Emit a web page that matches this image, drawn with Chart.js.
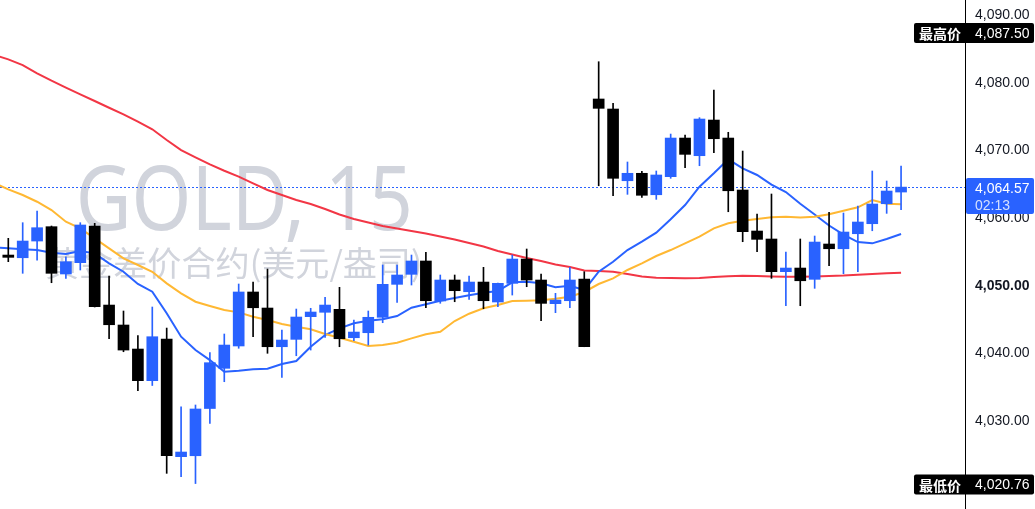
<!DOCTYPE html>
<html>
<head>
<meta charset="utf-8">
<script src="https://cdn.jsdelivr.net/npm/chart.js@4.4.1/dist/chart.umd.min.js"></script>
<style>
html,body{margin:0;padding:0;background:#ffffff;overflow:hidden;}
#wrap{width:1035px;height:509px;position:relative;}
canvas{display:block;}
</style>
</head>
<body>
<div id="wrap"><canvas id="c" width="1035" height="509"></canvas></div>
<script>
// ---- data (GOLD, 15 min) ----
const opens = [4054.53,4054.13,4056.60,4058.72,4051.73,4053.40,4058.82,4047.14,4044.19,4040.64,
4035.96,4042.12,4024.73,4024.87,4031.85,4037.79,4041.09,4049.07,4046.70,4040.98,
4042.07,4045.42,4046.07,4046.51,4042.31,4043.05,4045.33,4050.20,4051.68,4053.65,
4047.74,4050.84,4049.11,4050.54,4047.59,4050.35,4053.94,4050.84,4047.34,4047.78,
4050.99,4077.59,4076.11,4065.51,4066.61,4063.44,4066.11,4071.82,4069.21,4074.48,
4071.82,4064.14,4058.08,4056.90,4052.07,4052.61,4050.94,4056.16,4055.46,4057.68,
4059.16,4062.11,4063.84];
const highs = [4057.00,4059.31,4061.04,4058.82,4054.28,4059.31,4059.22,4051.43,4046.26,4042.61,
4046.85,4043.74,4032.11,4032.37,4040.10,4042.86,4050.25,4050.54,4052.46,4043.45,
4046.55,4046.66,4048.28,4049.76,4044.93,4046.26,4053.06,4053.06,4054.53,4054.93,
4051.58,4051.58,4051.43,4052.71,4050.39,4054.53,4055.42,4051.73,4048.87,4052.71,
4052.07,4083.10,4076.95,4068.28,4066.90,4066.95,4072.41,4072.27,4074.83,4078.92,
4072.67,4069.90,4060.59,4063.55,4054.98,4056.90,4057.34,4060.84,4060.74,4061.77,
4066.95,4065.47,4067.69];
const lows = [4053.55,4051.83,4053.79,4050.44,4051.09,4052.32,4046.85,4042.16,4040.24,4034.48,
4035.25,4022.27,4021.77,4020.76,4029.66,4035.81,4040.75,4042.46,4040.01,4036.46,
4039.65,4040.49,4042.37,4040.98,4041.87,4041.23,4044.53,4047.54,4050.10,4046.75,
4047.40,4047.63,4047.99,4046.60,4046.89,4048.62,4049.85,4044.82,4046.01,4046.75,
4040.98,4064.77,4063.30,4063.50,4063.06,4062.76,4065.87,4067.43,4067.73,4069.65,
4060.93,4056.50,4055.02,4051.09,4047.04,4047.04,4049.61,4052.95,4051.77,4052.07,
4058.12,4060.69,4061.23];
const closes = [4054.19,4056.60,4058.57,4051.83,4053.54,4058.97,4046.89,4044.23,4040.49,4035.96,
4042.46,4024.87,4025.42,4031.78,4038.62,4041.23,4049.07,4046.74,4040.98,4041.97,
4045.37,4046.11,4047.14,4042.16,4043.15,4045.33,4050.20,4051.58,4053.65,4047.78,
4050.84,4049.26,4050.54,4047.78,4050.35,4053.94,4050.84,4047.39,4047.88,4050.84,
4040.98,4076.21,4065.87,4066.61,4063.36,4066.36,4071.82,4069.41,4074.63,4071.72,
4064.03,4057.98,4056.85,4052.07,4052.61,4050.73,4056.45,4055.46,4057.93,4059.41,
4062.07,4063.99,4064.57];
// moving averages: first value belongs to the bar just left of the visible area
const maFast = [4055.70,4055.52,4055.38,4055.27,4054.87,4054.68,4055.12,4054.78,4053.31,4052.06,4050.25,
4049.11,4045.92,4042.46,4040.49,4039.01,4037.29,4037.43,4037.64,4037.73,4038.42,
4038.87,4040.98,4042.71,4043.70,4044.44,4044.82,4045.03,4045.52,4046.75,4047.25,
4047.78,4048.18,4048.58,4048.96,4049.21,4050.50,4050.59,4050.35,4049.76,4049.99,
4049.36,4052.06,4053.54,4055.27,4056.50,4057.83,4059.81,4061.92,4064.63,4066.61,
4068.68,4067.35,4066.36,4064.95,4063.84,4062.11,4060.52,4058.89,4057.56,4056.45,
4056.26,4056.90,4057.64];
const maMid = [4065.20,4064.24,4063.40,4062.41,4061.18,4059.45,4058.48,4057.00,4055.52,4054.05,4053.06,
4052.06,4050.35,4048.87,4047.63,4046.99,4046.40,4046.06,4045.42,4044.93,4044.34,
4043.94,4043.55,4042.86,4042.31,4041.72,4041.09,4041.23,4041.57,4042.22,4042.81,
4043.20,4044.78,4045.86,4046.66,4047.14,4047.74,4047.78,4047.84,4048.07,4048.37,
4049.07,4050.25,4051.09,4052.32,4053.31,4054.39,4055.27,4056.26,4057.24,4058.48,
4059.22,4059.60,4059.85,4060.10,4060.19,4060.07,4060.19,4060.55,4061.08,4061.58,
4062.66,4062.11,4062.02];
const maSlow = [4084.10,4083.45,4082.61,4081.39,4080.29,4079.26,4078.28,4077.29,4076.30,4075.33,4074.23,
4073.11,4071.53,4070.05,4068.97,4067.94,4066.99,4066.11,4065.13,4064.14,4063.40,
4062.66,4062.07,4061.33,4060.52,4059.85,4059.34,4058.82,4058.45,4058.08,4057.71,
4057.27,4056.82,4056.31,4055.79,4055.12,4054.61,4054.09,4053.65,4053.13,4052.76,
4052.24,4052.17,4052.07,4051.73,4051.36,4051.18,4051.14,4051.09,4051.14,4051.28,
4051.39,4051.48,4051.43,4051.36,4051.33,4051.33,4051.36,4051.43,4051.50,4051.62,
4051.73,4051.83,4051.92];
const yTicks = [4030, 4040, 4050, 4060, 4070, 4080, 4090];
const lastPrice = 4064.57;
const countdown = '02:13';
const dayHigh = 4087.50;
const dayLow = 4020.76;
const highLabel = '最高价';
const lowLabel = '最低价';
const watermarkTitle = 'GOLD, 15';
const watermarkSub = '黄金差价合约(美元/盎司)';

// ---- styles ----
const UP = '#2962FF', DOWN = '#000000';
const LATIN = '"Liberation Sans", Arial, sans-serif';
const CJK = '"Noto Sans CJK SC", "Noto Sans", sans-serif';
const idx = opens.map((_, i) => i);
const maPoints = arr => arr.map((v, k) => ({x: k - 1, y: v}));
const candleColor = i => (closes[i] >= opens[i] ? UP : DOWN);
const fmt = v => v.toLocaleString('en-US', {minimumFractionDigits: 2, maximumFractionDigits: 2});

const watermarkPlugin = {
  id: 'watermark',
  beforeDatasetsDraw(chart) {
    const ctx = chart.ctx, ca = chart.chartArea, y = chart.scales.y;
    ctx.save();
    ctx.beginPath(); ctx.rect(ca.left, ca.top, ca.right - ca.left, ca.bottom - ca.top); ctx.clip();
    ctx.fillStyle = '#d1d4dc';
    ctx.textBaseline = 'alphabetic';
    ctx.textAlign = 'left';
    function fitText(text, font, x, base, w) {
      ctx.font = font;
      const m = ctx.measureText(text);
      const ink = m.actualBoundingBoxLeft + m.actualBoundingBoxRight;
      const sx = w / ink;
      ctx.save(); ctx.translate(x, base); ctx.scale(sx, 1);
      ctx.fillText(text, m.actualBoundingBoxLeft, 0);
      ctx.restore();
    }
    fitText(watermarkTitle, '90px "Noto Sans", sans-serif', 80, 230, 329);
    fitText(watermarkSub, '34px ' + CJK, 46, 276, 374);
    // last price dotted line
    const py = Math.round(y.getPixelForValue(lastPrice)) + 0.5;
    ctx.strokeStyle = UP; ctx.lineWidth = 1; ctx.setLineDash([2, 2]);
    ctx.beginPath(); ctx.moveTo(ca.left, py); ctx.lineTo(ca.right, py); ctx.stroke();
    ctx.restore();
  }
};

const labelsPlugin = {
  id: 'priceLabels',
  afterDraw(chart) {
    const ctx = chart.ctx, y = chart.scales.y;
    const ax = y.left, right = chart.width;
    ctx.save();
    ctx.textBaseline = 'middle';
    ctx.textAlign = 'left';
    function rrect(x, yy, w, h, r) {
      ctx.beginPath();
      ctx.moveTo(x + r, yy); ctx.lineTo(x + w - r, yy); ctx.quadraticCurveTo(x + w, yy, x + w, yy + r);
      ctx.lineTo(x + w, yy + h - r); ctx.quadraticCurveTo(x + w, yy + h, x + w - r, yy + h);
      ctx.lineTo(x + r, yy + h); ctx.quadraticCurveTo(x, yy + h, x, yy + h - r);
      ctx.lineTo(x, yy + r); ctx.quadraticCurveTo(x, yy, x + r, yy); ctx.fill();
    }
    function extremeBox(label, value) {
      const cy = y.getPixelForValue(value) + 1;
      ctx.fillStyle = '#000000';
      rrect(914, cy - 10, right - 915, 20, 2);
      ctx.fillStyle = '#ffffff';
      ctx.font = 'bold 14px ' + CJK;
      ctx.fillText(label, 919, cy + 1);
      ctx.font = '14px ' + LATIN;
      ctx.fillText(fmt(value), ax + 10, cy + 1);
    }
    extremeBox(highLabel, dayHigh);
    extremeBox(lowLabel, dayLow);
    // current price box
    const cy = y.getPixelForValue(lastPrice) + 1;
    ctx.fillStyle = UP;
    rrect(ax + 1, cy - 10, right - ax - 2, 36, 2);
    ctx.fillStyle = '#ffffff';
    ctx.font = '14px ' + LATIN;
    ctx.fillText(fmt(lastPrice), ax + 10, cy + 1);
    ctx.fillStyle = 'rgba(255,255,255,0.8)';
    ctx.fillText(countdown, ax + 10, cy + 18);
    ctx.restore();
  }
};

new Chart(document.getElementById('c').getContext('2d'), {
  type: 'bar',
  data: {
    datasets: [
      { type: 'line', label: 'MA fast', data: maPoints(maFast),
        borderColor: '#2962FF', borderWidth: 2, pointRadius: 0, tension: 0, order: 5 },
      { type: 'line', label: 'MA mid', data: maPoints(maMid),
        borderColor: '#FFB833', borderWidth: 2, pointRadius: 0, tension: 0, order: 4 },
      { type: 'line', label: 'MA slow', data: maPoints(maSlow),
        borderColor: '#F23645', borderWidth: 2, pointRadius: 0, tension: 0, order: 6 },
      { type: 'bar', label: 'wicks', data: idx.map(i => ({x: i, y: [lows[i], highs[i]]})),
        backgroundColor: c => candleColor(c.dataIndex), barThickness: 1, grouped: false, order: 2 },
      { type: 'bar', label: 'bodies', data: idx.map(i => ({x: i, y: [opens[i], closes[i]]})),
        backgroundColor: c => candleColor(c.dataIndex), barThickness: 11, grouped: false, order: 1 }
    ]
  },
  options: {
    responsive: false,
    animation: false,
    devicePixelRatio: 1,
    layout: { padding: 0 },
    plugins: { legend: { display: false }, tooltip: { enabled: false } },
    scales: {
      x: { type: 'linear', display: false, offset: false, min: -0.576, max: 66.44 },
      y: {
        position: 'right', min: 4017.0, max: 4092.22,
        grid: { display: false, drawTicks: false },
        border: { display: true, color: '#000000', width: 1 },
        ticks: {
          padding: 10, color: '#131722', crossAlign: 'near',
          font: c => ({ family: LATIN, size: 14, weight: (c.tick && c.tick.value === 4050) ? 'bold' : 'normal' }),
          callback: v => fmt(v)
        },
        afterBuildTicks: s => { s.ticks = yTicks.map(v => ({ value: v })); },
        afterFit: s => { s.width = 70; s.paddingTop = 0; s.paddingBottom = 0; }
      }
    }
  },
  plugins: [watermarkPlugin, labelsPlugin]
});
</script>
</body>
</html>
